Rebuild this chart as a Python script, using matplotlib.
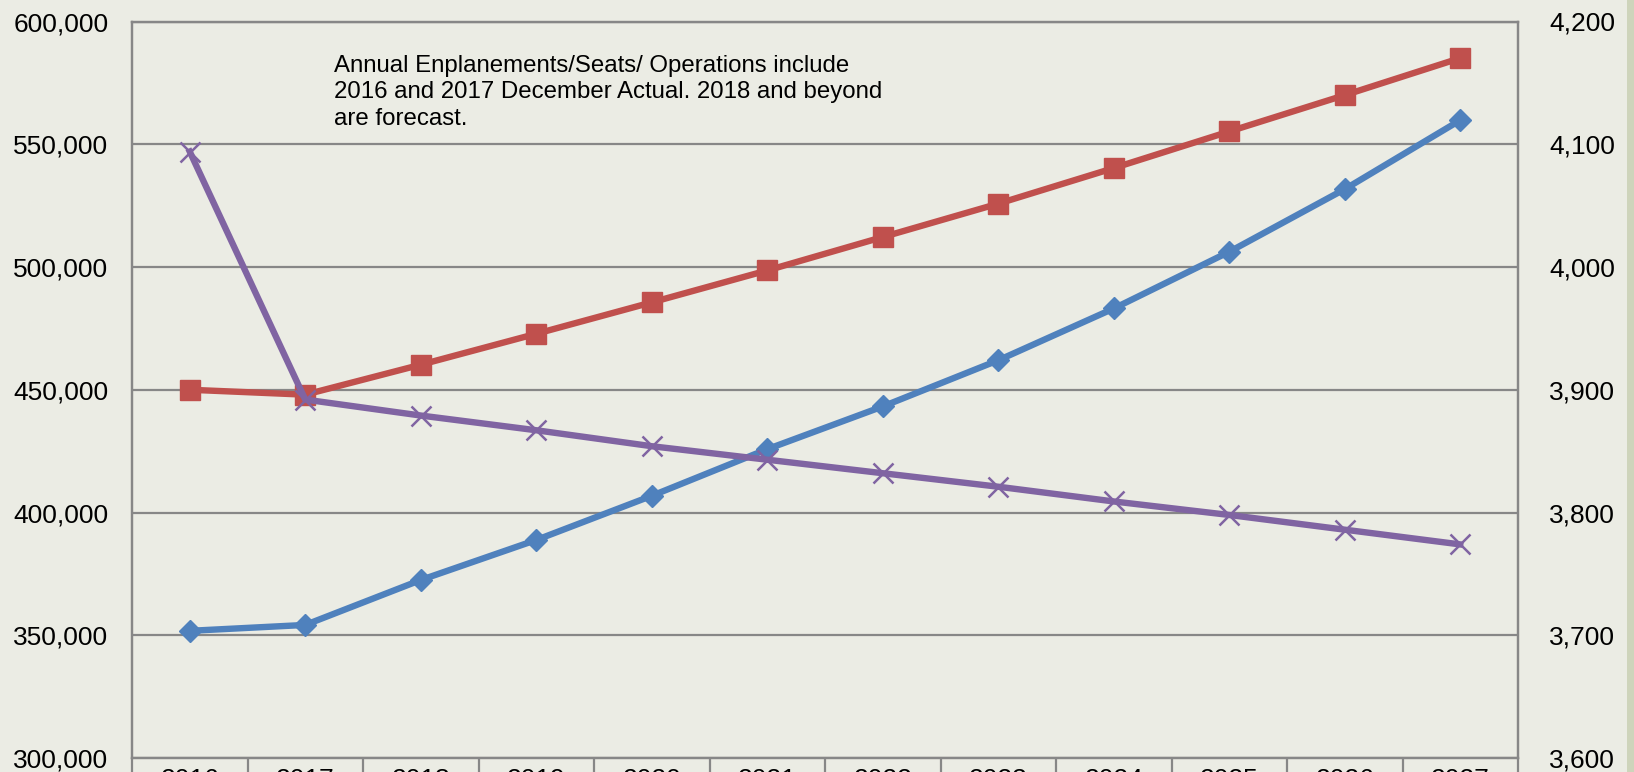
import matplotlib
matplotlib.use("Agg")
import matplotlib.pyplot as plt
from matplotlib.patches import Rectangle
from matplotlib.ticker import FuncFormatter, FixedLocator

plt.rcParams["font.family"] = ["Liberation Sans", "DejaVu Sans"]

years = ["2016", "2017", "2018", "2019", "2020", "2021",
         "2022", "2023", "2024", "2025", "2026", "2027"]
enplanements = [351800, 354200, 372500, 388800, 406800, 425800,
                443200, 462000, 483100, 506200, 531700, 559800]
seats = [450000, 448000, 460200, 472800, 485600, 498600,
         512200, 525800, 540300, 555200, 570000, 585100]
operations = [4094, 3892, 3879, 3867, 3854, 3843,
              3832, 3821, 3809, 3798, 3786, 3774]

note = ("Annual Enplanements/Seats/ Operations include\n"
        "2016 and 2017 December Actual. 2018 and beyond\n"
        "are forecast.")

bg = "#ebece4"
grid_col = "#878787"
blue, red, purple = "#4f81bd", "#c0504d", "#8064a2"

W, H = 1634, 772
fig = plt.figure(figsize=(W / 100, H / 100), dpi=100, facecolor=bg)
ax = fig.add_axes([132 / W, (H - 758) / H, (1518 - 132) / W, (758 - 21.5) / H])
ax.set_facecolor(bg)

# green strip along the right edge
fig.patches.append(Rectangle((1627 / W, 0), 7 / W, 1, transform=fig.transFigure,
                             facecolor="#ced4bb", edgecolor="none", zorder=0))

x = list(range(len(years)))

ax.set_xlim(-0.5, len(years) - 0.5)
ax.set_ylim(300000, 600000)
ax.set_yticks(range(300000, 600001, 50000))
ax.yaxis.set_major_formatter(FuncFormatter(lambda v, p: f"{int(v):,}"))
ax.grid(axis="y", color=grid_col, linewidth=1.6)
ax.set_axisbelow(True)

ax.set_xticks(x)
ax.set_xticklabels(years)
ax.xaxis.set_minor_locator(FixedLocator([i - 0.5 for i in range(len(years) + 1)]))
ax.tick_params(axis="x", which="major", length=0, pad=7.5, labelsize=19)
ax.tick_params(axis="x", which="minor", length=14, width=1.6, color=grid_col)
ax.tick_params(axis="y", length=0, pad=17, labelsize=19)

for s in ax.spines.values():
    s.set_color(grid_col)
    s.set_linewidth(1.6)

ax2 = ax.twinx()
ax2.set_ylim(3600, 4200)
ax2.set_yticks(range(3600, 4201, 100))
ax2.yaxis.set_major_formatter(FuncFormatter(lambda v, p: f"{int(v):,}"))
ax2.tick_params(axis="y", length=0, pad=22.5, labelsize=19)
for s in ax2.spines.values():
    s.set_color(grid_col)
    s.set_linewidth(1.6)

ax.plot(x, seats, color=red, linewidth=4.6, marker="s", markersize=15,
        zorder=3, clip_on=False)
ax.plot(x, enplanements, color=blue, linewidth=4.6, marker="D", markersize=11,
        zorder=4, clip_on=False)
ax2.plot(x, operations, color=purple, linewidth=4.6, marker="x", markersize=14,
         markeredgewidth=1.8, zorder=3, clip_on=False)

ax.text(334 / W, 1 - 55 / H, note, transform=fig.transFigure, fontsize=17.3,
        va="top", ha="left", linespacing=1.26)

fig.savefig("out.png", dpi=100, facecolor=bg)
